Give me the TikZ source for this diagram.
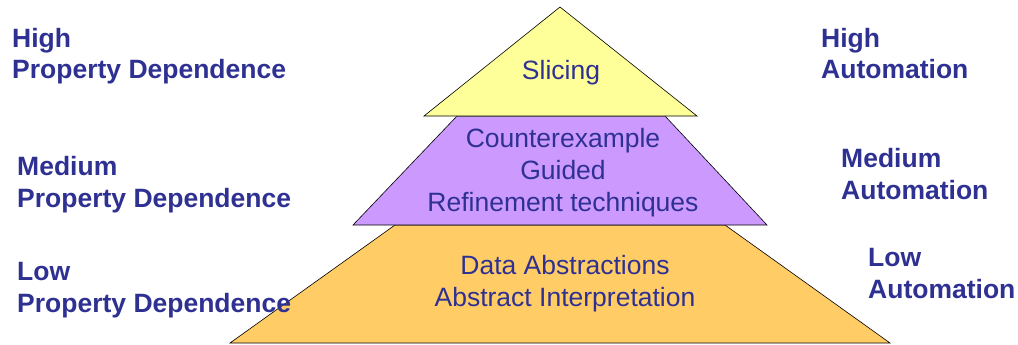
\documentclass[tikz,border=0pt]{standalone}
\usepackage{fontspec}
\setmainfont{Liberation Sans}
\usepackage{xcolor}
\usepackage{tikz}

\definecolor{labblue}{RGB}{46,49,146}
\definecolor{topyellow}{RGB}{255,255,153}
\definecolor{midpurple}{RGB}{204,153,255}
\definecolor{loworange}{RGB}{255,204,102}

\begin{document}
\begin{tikzpicture}[
  x=1pt,
  y=-1pt,
  every node/.style={inner sep=0pt, text=labblue},
  tier/.style={draw=black, line width=0.6pt, line join=miter},
  lab/.style={font=\fontsize{26.5}{32}\selectfont\bfseries, align=left, anchor=base west},
  tiertext/.style={font=\fontsize{26.5}{32}\selectfont, align=center, anchor=base},
]

% Page.
\useasboundingbox (0,0) rectangle (1018,345);

% Pyramid tiers, bottom to top.
\draw[tier, fill=loworange] (230,343) -- (395,225) -- (725,225) -- (890,343) -- cycle;
\draw[tier, fill=midpurple] (353,225) -- (457,116) -- (665,116) -- (767,225) -- cycle;
\draw[tier, fill=topyellow] (424,116) -- (560,7) -- (697,116) -- cycle;

% Tier texts.
\node[tiertext] (slicing) at (561,80) {Slicing};
\node[tiertext] (cegar) at (563,211) {Counterexample\\Guided\\Refinement techniques};
\node[tiertext] (dataabs) at (565,306) {Data Abstractions\\Abstract Interpretation};

% Left labels.
\node[lab] (highprop) at (12,79) {High\\Property Dependence};
\node[lab] (medprop) at (17,207) {Medium\\Property Dependence};
\node[lab] (lowprop) at (17,312) {Low\\Property Dependence};

% Right labels.
\node[lab] (highauto) at (821,79) {High\\Automation};
\node[lab] (medauto) at (841,199) {Medium\\Automation};
\node[lab] (lowauto) at (868,298) {Low\\Automation};

\end{tikzpicture}
\end{document}
